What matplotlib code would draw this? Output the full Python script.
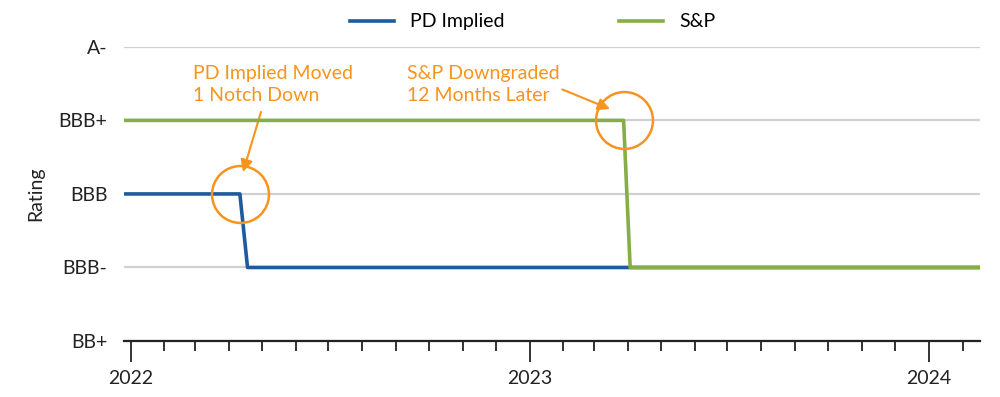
import matplotlib
matplotlib.use("Agg")
import matplotlib.pyplot as plt
import matplotlib.dates as mdates
import pandas as pd

# escala de ratings (de menor a mayor)
ratings = ["BB+", "BBB-", "BBB", "BBB+", "A-"]

# series
pd_dates = ["2021-12-26", "2022-04-11", "2022-04-18", "2024-02-17"]
pd_rating = ["BBB", "BBB", "BBB-", "BBB-"]
sp_dates = ["2021-12-26", "2023-03-28", "2023-04-03", "2024-02-17"]
sp_rating = ["BBB+", "BBB+", "BBB-", "BBB-"]

pd_x = pd.to_datetime(pd_dates)
sp_x = pd.to_datetime(sp_dates)
pd_y = [ratings.index(r) for r in pd_rating]
sp_y = [ratings.index(r) for r in sp_rating]

blue = "#1f5b9b"
green = "#86ad48"
orange = "#f7941d"

plt.rcParams["font.family"] = ["Lato", "DejaVu Sans"]

fig = plt.figure(figsize=(10, 3.97), dpi=100)
ax = fig.add_axes([0.124, 0.141, 0.856, 0.741])

ax.plot(pd_x, pd_y, color=blue, lw=2.6, label="PD Implied", zorder=3)
ax.plot(sp_x, sp_y, color=green, lw=2.6, label="S&P", zorder=4)

# circulos en los cambios
ax.plot(pd_x[1], pd_y[1], "o", ms=41, mfc="none", mec=orange, mew=1.8, zorder=5)
ax.plot(sp_x[1], sp_y[1], "o", ms=41, mfc="none", mec=orange, mew=1.8, zorder=5)

# textos y flechas
ax.annotate("PD Implied Moved\n1 Notch Down", xy=(243, 397 - 172), xycoords="figure pixels",
            xytext=(193, 397 - 65), textcoords="figure pixels", ha="left", va="top",
            fontsize=14, color=orange, linespacing=1.35,
            arrowprops=dict(arrowstyle="-|>", color=orange, lw=1.5, mutation_scale=18,
                            shrinkA=4, shrinkB=0, relpos=(0.44, 0.0)))
ax.annotate("S&P Downgraded\n12 Months Later", xy=(610, 397 - 109), xycoords="figure pixels",
            xytext=(407, 397 - 65), textcoords="figure pixels", ha="left", va="top",
            fontsize=14, color=orange, linespacing=1.35,
            arrowprops=dict(arrowstyle="-|>", color=orange, lw=1.5, mutation_scale=18,
                            shrinkA=0, shrinkB=0, relpos=(1.0, 0.4)))

# ejes
ax.set_ylim(0, 4)
ax.set_yticks(range(len(ratings)))
ax.set_yticklabels(ratings, fontsize=14, color="#222222")
ax.set_xlim(pd.Timestamp("2021-12-26"), pd.Timestamp("2024-02-17"))
ax.set_ylabel("Rating", fontsize=14, color="#222222", labelpad=10)

ax.xaxis.set_major_locator(mdates.YearLocator())
ax.xaxis.set_major_formatter(mdates.DateFormatter("%Y"))
ax.xaxis.set_minor_locator(mdates.MonthLocator())
ax.tick_params(axis="x", which="major", length=15, width=1.3, color="#222222",
               labelsize=14, labelcolor="#222222", pad=6)
ax.tick_params(axis="x", which="minor", length=7, width=1.3, color="#222222")
ax.tick_params(axis="y", length=0, pad=12)

for s in ["top", "right", "left"]:
    ax.spines[s].set_visible(False)
ax.spines["bottom"].set_linewidth(1.6)
ax.spines["bottom"].set_color("#222222")
ax.set_axisbelow(True)
ax.grid(axis="y", color="#d0d0d0", lw=1.6)

fig.legend(loc="center", bbox_to_anchor=(0.533, 0.945), ncol=2, frameon=False,
           fontsize=14, handlelength=2.26, columnspacing=5.9, handletextpad=0.82)

plt.savefig("out.png", dpi=100)
